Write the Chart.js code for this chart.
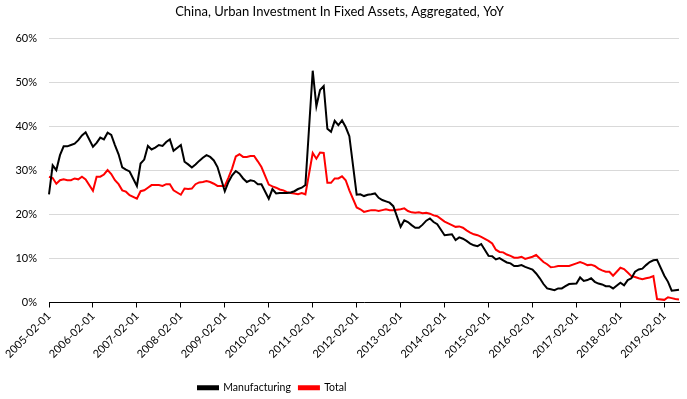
<!DOCTYPE html>
<html>
<head>
<meta charset="utf-8">
<script src="https://cdn.jsdelivr.net/npm/chart.js@4/dist/chart.umd.min.js"></script>
<style>
html,body{margin:0;padding:0;background:#fff;}
#wrap{width:687px;height:399px;}
</style>
</head>
<body>
<div id="wrap"><canvas id="c" width="687" height="399"></canvas></div>
<script>
// Monthly categories 2005-02 .. 2019-06 (January is not published, so null)
const startYear = 2005, startMonth = 2, monthCount = 173;
const categories = [];
for (let i = 0; i < monthCount; i++) {
  const t = (startMonth - 1) + i;
  const y = startYear + Math.floor(t / 12);
  const m = (t % 12) + 1;
  categories.push(y + '-' + String(m).padStart(2, '0') + '-01');
}

const manufacturing = [
  24.6,31.2,30.1,33.5,35.5,35.5,35.8,36.1,36.9,38.0,38.7,null,
  35.4,36.3,37.5,37.1,38.6,38.1,35.8,33.7,30.7,30.2,29.8,null,
  26.5,31.6,32.5,35.6,34.8,35.2,35.8,35.6,36.5,37.1,34.5,null,
  35.8,32.0,31.4,30.7,31.4,32.2,32.9,33.5,33.1,32.3,30.8,null,
  25.3,27.4,28.9,29.9,29.3,28.2,27.4,27.8,27.6,26.9,26.9,null,
  23.6,25.8,24.8,24.9,24.9,24.9,25.0,25.3,25.8,26.1,26.7,null,
  52.7,44.6,48.3,49.2,39.5,38.8,41.3,40.3,41.4,39.9,37.8,null,
  24.5,24.6,24.2,24.5,24.6,24.8,23.8,23.3,23.0,22.7,21.9,null,
  17.2,18.7,18.3,17.6,17.0,17.0,17.7,18.6,19.1,18.3,17.8,null,
  15.3,15.4,15.5,14.2,14.8,14.5,14.0,13.4,13.0,12.8,13.3,null,
  10.6,10.5,9.8,10.1,9.6,9.1,8.9,8.3,8.3,8.5,8.1,null,
  7.5,6.6,5.5,4.2,3.2,3.0,2.8,3.2,3.2,3.7,4.2,null,
  4.3,5.7,4.9,5.1,5.5,4.7,4.3,4.1,3.7,3.7,3.2,null,
  4.5,3.9,5.1,5.5,7.0,7.5,7.7,8.5,9.2,9.6,9.7,null,
  6.1,4.7,2.7,2.8,2.9
];

const total = [
  28.6,28.3,27.0,27.8,28.0,27.8,27.8,28.2,28.0,28.6,28.0,null,
  25.4,28.6,28.6,29.1,30.1,29.2,27.8,26.9,25.5,25.2,24.4,null,
  23.6,25.3,25.5,26.1,26.7,26.7,26.7,26.5,26.9,26.9,25.5,null,
  24.5,25.9,25.8,25.9,26.9,27.3,27.4,27.6,27.4,27.0,26.5,null,
  26.5,28.4,30.5,33.2,33.7,33.1,33.1,33.3,33.3,32.1,30.8,null,
  26.8,26.4,26.1,25.7,25.5,25.1,24.9,24.8,24.6,24.9,24.6,null,
  34.0,32.7,34.1,34.0,27.2,27.2,28.2,28.2,28.7,27.8,25.5,null,
  21.6,21.2,20.6,20.8,21.0,21.0,20.8,21.0,21.2,21.0,21.0,null,
  21.2,21.4,20.8,20.5,20.4,20.5,20.3,20.4,20.2,19.8,19.6,null,
  18.4,18.0,17.6,17.2,17.3,17.0,16.4,15.9,15.5,15.3,14.9,null,
  14.0,13.4,12.0,11.5,11.4,10.9,10.6,10.2,10.2,10.4,9.9,null,
  10.4,10.8,10.0,9.2,8.7,8.0,8.1,8.3,8.3,8.3,8.3,null,
  8.9,9.2,8.9,8.5,8.6,8.3,7.7,7.3,7.0,7.0,6.1,null,
  7.9,7.6,6.8,6.0,5.8,5.5,5.3,5.5,5.7,6.0,0.8,null,
  0.6,1.2,1.0,0.8,0.7
];

const yTicks = [0, 10, 20, 30, 40, 50, 60];

const FONT = 'Lato, "Noto Sans", sans-serif';

const legendShift = {
  id: 'legendShift',
  afterLayout(chart) {
    const l = chart.legend;
    if (!l || !l.lineWidths) return;
    const pad = l.options.labels.padding;
    const cur = (l.left + pad + l.right - l.lineWidths[0]) / 2;
    const shift = 198 - cur;
    l.left += shift; l.right += shift;
    l.top += 4; l.bottom += 4;
  }
};

new Chart(document.getElementById('c'), {
  type: 'line',
  data: {
    labels: categories,
    datasets: [
      { label: 'Manufacturing', data: manufacturing, borderColor: '#000000', backgroundColor: '#000000',
        borderWidth: 2, pointRadius: 0, tension: 0, spanGaps: true },
      { label: 'Total', data: total, borderColor: '#ff0000', backgroundColor: '#ff0000',
        borderWidth: 2, pointRadius: 0, tension: 0, spanGaps: true }
    ]
  },
  options: {
    responsive: false,
    animation: false,
    devicePixelRatio: 1,
    layout: { padding: { left: 0, right: 8, top: 0, bottom: 0 } },
    plugins: {
      title: {
        display: true,
        text: 'China, Urban Investment In Fixed Assets, Aggregated, YoY',
        color: '#000',
        font: { family: FONT, size: 13, weight: 'normal' },
        padding: { top: 4, bottom: 19 }
      },
      legend: {
        position: 'bottom',
        labels: {
          color: '#000',
          font: { family: FONT, size: 10.5 },
          boxWidth: 20, boxHeight: 3, padding: 8
        }
      },
      tooltip: { enabled: false }
    },
    scales: {
      x: {
        type: 'category',
        grid: { display: true, drawOnChartArea: false, drawTicks: true, tickLength: 5, color: '#000' },
        border: { display: true, color: '#000', width: 1 },
        ticks: {
          autoSkip: false, minRotation: 45, maxRotation: 45, padding: 2,
          color: '#000', font: { family: FONT, size: 11 },
          callback: function (v, i) {
            const lab = this.getLabelForValue(v);
            return lab.slice(5, 7) === '02' ? lab : null;
          }
        },
        afterFit(s) { s.height = 68; }
      },
      y: {
        min: 0, max: 60,
        afterBuildTicks(s) { s.ticks = yTicks.map(v => ({ value: v })); },
        grid: { color: '#d9d9d9', drawTicks: false },
        border: { display: false },
        ticks: { padding: 12, color: '#000', font: { family: FONT, size: 11 },
          callback: v => v + '%' },
        afterFit(s) { s.width = 49; }
      }
    }
  },
  plugins: [legendShift]
});
</script>
</body>
</html>
